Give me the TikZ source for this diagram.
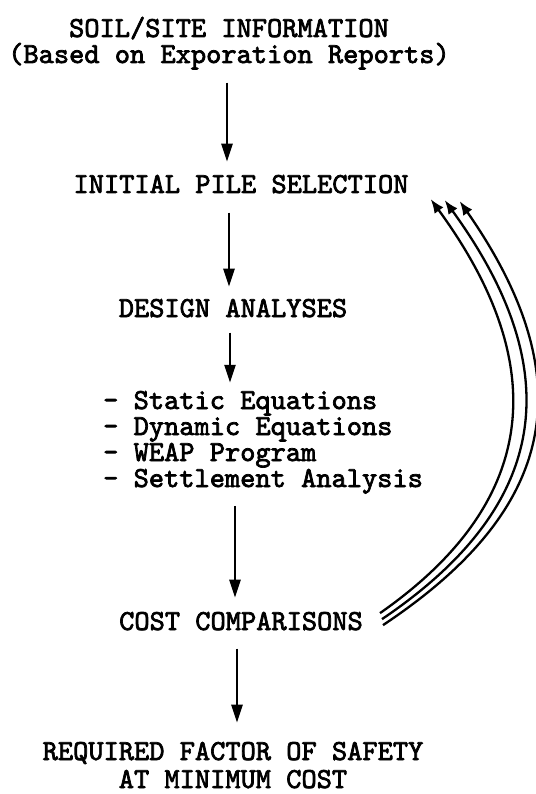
\documentclass[tikz,border=0pt]{standalone}
\usepackage{fontspec}
\usepackage{tikz}
\usetikzlibrary{arrows.meta}
\newfontfamily\typewr{lmmono10-regular}[Extension=.otf, FakeBold=2.5]

\begin{document}
\begin{tikzpicture}[
    x=1pt, y=-1pt,
    every node/.style={font=\typewr\fontsize{29}{26}\selectfont, align=center, inner sep=0pt},
    stepText/.style={anchor=base},
    listText/.style={anchor=base west, align=left, font=\typewr\fontsize{29}{26}\selectfont},
    flowArrow/.style={draw, line width=2.6pt, -{Triangle[length=18pt, width=11pt]}},
    loopArrow/.style={draw, line width=2.3pt, -{Latex[length=14pt, width=11pt]}}
]
    \useasboundingbox (0,0) rectangle (535,794);

    \node [stepText] (soil) at (229, 63) {SOIL/SITE INFORMATION\\(Based on Exporation Reports)};
    \node [stepText] (pile) at (241, 193) {INITIAL PILE SELECTION};
    \node [stepText] (design) at (233, 317) {DESIGN ANALYSES};
    \node [listText] (methods) at (103, 487) {- Static Equations\\- Dynamic Equations\\- WEAP Program\\- Settlement Analysis};
    \node [stepText] (cost) at (241, 630) {COST COMPARISONS};
    \node [stepText, font=\typewr\fontsize{29}{28}\selectfont] (result) at (233, 788) {REQUIRED FACTOR OF SAFETY\\AT MINIMUM COST};

    \path [flowArrow, shorten <=13pt, shorten >=13pt] ([xshift=-2pt]soil.south) -- ([xshift=-2pt]soil.south |- pile.north);
    \path [flowArrow, shorten <=19pt, shorten >=12pt] ([xshift=-12pt]pile.south) -- ([xshift=-12pt]pile.south |- design.north);
    \path [flowArrow, shorten <=15pt, shorten >=8pt] ([xshift=-3pt]design.south) -- ([xshift=-3pt]design.south |- methods.north);
    \path [flowArrow, shorten <=12pt, shorten >=14pt] ([xshift=-6pt]cost.north |- methods.south) -- ([xshift=-6pt]cost.north);
    \path [flowArrow, shorten <=18pt, shorten >=19pt] ([xshift=-4pt]cost.south) -- ([xshift=-4pt]cost.south |- result.north);

    \path [loopArrow] ([shift={(17,-8)}]cost.east) .. controls +(139,-97) and +(136,186) .. ([shift={(22,15)}]pile.east);
    \path [loopArrow] ([shift={(19,-2)}]cost.east) .. controls +(148,-100) and +(138,190) .. ([shift={(36,16)}]pile.east);
    \path [loopArrow] ([shift={(20,4)}]cost.east) .. controls +(156,-104) and +(136,195) .. ([shift={(51,17)}]pile.east);
\end{tikzpicture}
\end{document}
